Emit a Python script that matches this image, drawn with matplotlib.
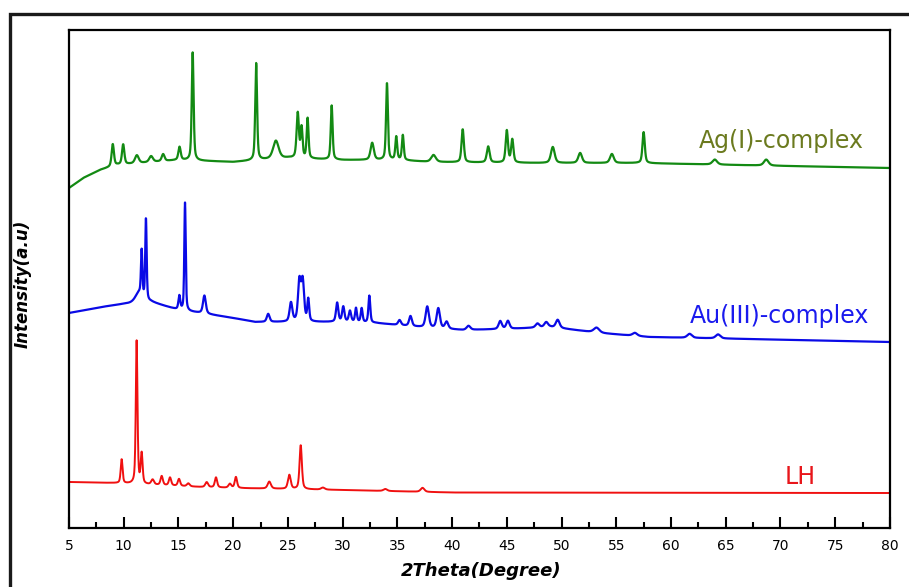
import numpy as np
import matplotlib
matplotlib.use('Agg')
import matplotlib.pyplot as plt
from matplotlib.patches import Rectangle
from matplotlib.ticker import MultipleLocator

# ----------------------------------------------------------------------------------------------------------------------
# peak lists: position (2theta), height above baseline, fwhm (a.u. offsets already included)

lh_base_x = [5, 9, 13, 17, 20, 25, 30, 40, 80]
lh_base_y = [46, 45, 43, 41, 40, 39, 38, 35.5, 35]
lh_pos = [9.81, 11.18, 11.64, 12.64, 13.47, 14.23, 15.05, 15.9, 17.58, 18.43, 19.7, 20.25, 23.3, 25.13, 26.17, 28.2, 33.9, 37.3]
lh_height = [24, 143, 30, 5, 9, 8, 7, 3, 5, 10, 4, 11, 7, 14, 44, 2, 2, 4]
lh_fwhm = [0.2, 0.18, 0.2, 0.3, 0.25, 0.25, 0.25, 0.3, 0.3, 0.25, 0.3, 0.25, 0.35, 0.3, 0.25, 0.4, 0.4, 0.4]

au_base_x = [5, 8, 10, 12.5, 15, 17, 20, 22, 25, 30, 33, 38, 41, 45, 49, 53.5, 58, 67, 80]
au_base_y = [215, 221, 224, 226, 218, 215, 210, 206, 206, 206, 205, 200, 198, 199, 201, 195, 191, 189, 186]
au_pos = [11.4, 11.64, 12.03, 15.08, 15.6, 17.37, 23.2, 25.28, 26.05, 26.35, 26.86, 29.5, 30.06, 30.67, 31.22, 31.74,
          32.44, 35.2, 36.2, 37.73, 38.74, 39.5, 41.5, 44.4, 45.1, 47.8, 48.6, 49.65, 53.2, 56.7, 61.7, 64.3]
au_height = [10, 45, 82, 14, 108, 18, 8, 19, 40, 40, 22, 19, 15, 11, 14, 14,
             27, 5, 10, 21, 20, 7, 4, 8, 8, 4, 5, 8, 5, 3, 4, 4]
au_fwhm = [0.8, 0.15, 0.15, 0.2, 0.15, 0.3, 0.3, 0.3, 0.3, 0.3, 0.2, 0.25, 0.25, 0.25, 0.2, 0.2,
           0.2, 0.3, 0.3, 0.35, 0.35, 0.35, 0.4, 0.35, 0.35, 0.4, 0.4, 0.4, 0.6, 0.5, 0.5, 0.5]

ag_base_x = [5, 6.3, 7.8, 9.4, 15, 20, 25, 30, 35, 38, 48, 57, 66, 80]
ag_base_y = [340, 350, 358, 363, 368, 366, 370, 368, 368, 366, 365, 365, 363, 360]
ag_pos = [9.0, 9.95, 11.2, 12.5, 13.6, 15.1, 16.3, 22.1, 23.9, 25.9, 26.25, 26.8, 29.0, 32.7, 34.05, 34.9, 35.5, 38.3,
          40.97, 43.3, 45.0, 45.5, 49.2, 51.7, 54.6, 57.5, 64.0, 68.7]
ag_height = [22, 20, 8, 6, 7, 13, 108, 97, 18, 45, 30, 40, 54, 17, 77, 23, 25, 7,
             33, 16, 32, 23, 16, 10, 9, 31, 5, 6]
ag_fwhm = [0.25, 0.25, 0.4, 0.4, 0.3, 0.25, 0.2, 0.2, 0.6, 0.25, 0.2, 0.2, 0.2, 0.35, 0.2, 0.2, 0.2, 0.5,
           0.25, 0.3, 0.25, 0.25, 0.4, 0.4, 0.4, 0.25, 0.5, 0.5]

labels = ['LH', 'Au(III)-complex', 'Ag(I)-complex']
label_x = [71.8, 69.9, 70.1]
label_y = [44, 205, 380]

# ----------------------------------------------------------------------------------------------------------------------

def pattern(x, base_x, base_y, pos, height, fwhm):
    # pseudo-voigt peaks on a piecewise baseline
    y = np.interp(x, base_x, base_y)
    for p, h, w in zip(pos, height, fwhm):
        g = (w / 2.0) ** 2
        lor = g / ((x - p) ** 2 + g)
        gau = np.exp(-4 * np.log(2) * (x - p) ** 2 / w ** 2)
        y = y + h * (0.5 * lor + 0.5 * gau)
    return y


if __name__ == '__main__':

    tt = np.arange(5, 80.001, 0.02)

    fig = plt.figure(figsize=(9.09, 5.87), dpi=100)
    ax = fig.add_axes([0.0759, 0.1005, 0.9031, 0.8484])

    # outer frame (cropped on the right and bottom like the original)
    top = 1 - 14 / 587
    fig.patches.append(Rectangle((10 / 909, -0.2), 1.3, top + 0.2, transform=fig.transFigure,
                                 fill=False, edgecolor='#1a1a1a', linewidth=2.4))

    ax.plot(tt, pattern(tt, lh_base_x, lh_base_y, lh_pos, lh_height, lh_fwhm), color='#f01010', lw=1.4)
    ax.plot(tt, pattern(tt, au_base_x, au_base_y, au_pos, au_height, au_fwhm), color='#0a0ae6', lw=1.6)
    ax.plot(tt, pattern(tt, ag_base_x, ag_base_y, ag_pos, ag_height, ag_fwhm), color='#138a13', lw=1.6)

    colors = ['#e8161b', '#1a1aee', '#6b7a1e']
    for lab, lx, ly, c in zip(labels, label_x, label_y, colors):
        ax.text(lx, ly, lab, color=c, fontsize=17, ha='center', va='baseline')

    ax.set_xlim(5, 80)
    ax.set_ylim(0, 498)
    ax.xaxis.set_major_locator(MultipleLocator(5))
    ax.xaxis.set_minor_locator(MultipleLocator(2.5))
    ax.tick_params(axis='x', which='major', direction='in', length=8, width=1.5, labelsize=10, pad=8)
    ax.tick_params(axis='x', which='minor', direction='in', length=4, width=1.5)
    ax.set_yticks([])
    for s in ax.spines.values():
        s.set_linewidth(1.6)

    ax.set_xlabel('2Theta(Degree)', fontsize=13, fontweight='bold', fontstyle='italic')
    ax.xaxis.set_label_coords(0.502, -0.068)
    ax.set_ylabel('Intensity(a.u)', fontsize=12, fontweight='bold', fontstyle='italic')
    ax.yaxis.set_label_coords(-0.046, 0.49)

    fig.savefig('out.png', dpi=100)
    print('Main done.')
